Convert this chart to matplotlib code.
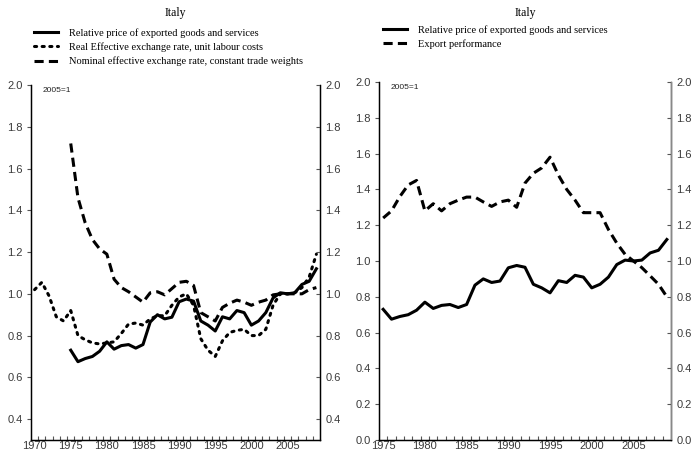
import matplotlib
matplotlib.use("Agg")
import matplotlib.pyplot as plt
from matplotlib.ticker import FixedLocator, NullFormatter

# data (2005=1)
years_reer = list(range(1970, 2010))
years = list(range(1975, 2010))

rel_price = [0.73, 0.675, 0.69, 0.70, 0.725, 0.77, 0.735, 0.752, 0.757, 0.74,
             0.757, 0.865, 0.90, 0.88, 0.888, 0.962, 0.975, 0.965, 0.87, 0.85,
             0.822, 0.89, 0.88, 0.92, 0.91, 0.85, 0.87, 0.91, 0.98, 1.005,
             1.0, 1.005, 1.045, 1.06, 1.12]

reer_ulc = [1.02, 1.055, 0.99, 0.89, 0.87, 0.92, 0.80, 0.78, 0.765, 0.76,
            0.765, 0.77, 0.81, 0.855, 0.86, 0.85, 0.88, 0.895, 0.895, 0.945,
            0.985, 1.0, 0.945, 0.785, 0.73, 0.70, 0.775, 0.815, 0.825, 0.83,
            0.80, 0.80, 0.83, 0.945, 1.0, 1.0, 1.005, 1.03, 1.08, 1.19]

neer = [1.72, 1.46, 1.34, 1.26, 1.215, 1.19, 1.07, 1.03, 1.01, 0.985,
        0.96, 1.005, 1.01, 0.995, 1.025, 1.055, 1.06, 1.04, 0.91, 0.89,
        0.87, 0.935, 0.955, 0.97, 0.96, 0.945, 0.96, 0.97, 0.995, 1.0,
        1.0, 1.0, 1.0, 1.02, 1.03]

export_perf = [1.24, 1.28, 1.36, 1.425, 1.45, 1.28, 1.32, 1.28, 1.32, 1.34,
               1.357, 1.357, 1.33, 1.305, 1.33, 1.34, 1.30, 1.435, 1.49, 1.52,
               1.58, 1.48, 1.40, 1.34, 1.27, 1.27, 1.27, 1.176, 1.10, 1.037,
               1.0, 0.963, 0.917, 0.87, 0.80]

left_labels = ["Relative price of exported goods and services",
               "Real Effective exchange rate, unit labour costs",
               "Nominal effective exchange rate, constant trade weights"]
right_labels = ["Relative price of exported goods and services",
                "Export performance"]

serif = "Liberation Serif"
sans = "Liberation Sans"
tick_col = "#3a3a3a"
dotted = (0, (0.7, 1.8))
dashed = (0, (3, 1.7))
lw = 2.2
tsize = 8

W, H = 693, 453
fig = plt.figure(figsize=(W / 100, H / 100), dpi=100)


def setup(ax, x0, x1, y0, y1, yticks, xlabels):
    ax.set_xlim(x0, x1)
    ax.set_ylim(y0, y1)
    ax.spines["top"].set_visible(False)
    for s in ax.spines.values():
        s.set_linewidth(1.0)
    ax.set_yticks(yticks)
    ax.set_yticklabels(["%.1f" % v for v in yticks])
    ax.tick_params(axis="y", direction="out", length=3, width=0.8,
                   labelsize=tsize, labelcolor=tick_col, color="#555555", pad=3)
    ax.set_xticks(xlabels)
    ax.set_xticklabels([str(v) for v in xlabels])
    ax.xaxis.set_minor_locator(FixedLocator([v + 0.5 for v in range(int(x0 + 0.5), int(x1 - 0.5))]))
    ax.xaxis.set_minor_formatter(NullFormatter())
    ax.tick_params(axis="x", which="major", length=0, labelsize=tsize,
                   labelcolor=tick_col, pad=0.5)
    ax.tick_params(axis="x", which="minor", direction="in", length=3,
                   width=0.8, color="#555555")
    for t in ax.get_xticklabels() + ax.get_yticklabels():
        t.set_family(sans)
    tw = ax.twinx()
    tw.set_ylim(y0, y1)
    tw.set_yticks(yticks)
    tw.set_yticklabels(["%.1f" % v for v in yticks])
    tw.tick_params(axis="y", direction="in", length=3, width=0.8,
                   labelsize=tsize, labelcolor=tick_col, color="#555555", pad=4)
    for t in tw.get_yticklabels():
        t.set_family(sans)
    tw.spines["top"].set_visible(False)
    return tw


# left panel
axL = fig.add_axes([31 / W, 1 - 440 / H, 289 / W, 355 / H])
setup(axL, 1969.5, 2009.5, 0.3, 2.0, [0.4, 0.6, 0.8, 1.0, 1.2, 1.4, 1.6, 1.8, 2.0],
      [1970, 1975, 1980, 1985, 1990, 1995, 2000, 2005])
l1, = axL.plot(years, rel_price, color="black", lw=lw, solid_joinstyle="round")
l2, = axL.plot(years_reer, reer_ulc, color="black", lw=lw, ls=dotted,
               dash_capstyle="round")
l3, = axL.plot(years, neer, color="black", lw=lw, ls=dashed)
axL.text(0.04, 0.995, "2005=1", transform=axL.transAxes, fontsize=6,
         family=sans, color="#222222", va="top")
fig.text(175 / W, 1 - 13 / H, "Italy", ha="center", va="center",
         family=serif, fontsize=8.5)
fig.legend([l1, l2, l3], left_labels, loc="upper left",
           bbox_to_anchor=(34 / W, 1 - 28 / H), frameon=False,
           prop={"family": serif, "size": 7.5}, handlelength=2.3,
           handletextpad=1.1, labelspacing=0.45, borderpad=0, borderaxespad=0)

# right panel
axR = fig.add_axes([379 / W, 1 - 440 / H, 292 / W, 358 / H])
twR = setup(axR, 1974.5, 2009.5, 0.0, 2.0, [0.0, 0.2, 0.4, 0.6, 0.8, 1.0, 1.2, 1.4, 1.6, 1.8, 2.0],
            [1975, 1980, 1985, 1990, 1995, 2000, 2005])
twR.spines["right"].set_color("#888888")
r1, = axR.plot(years, rel_price, color="black", lw=lw, solid_joinstyle="round")
r2, = axR.plot(years, export_perf, color="black", lw=lw, ls=dashed)
axR.text(0.04, 0.995, "2005=1", transform=axR.transAxes, fontsize=6,
         family=sans, color="#222222", va="top")
fig.text(525 / W, 1 - 13 / H, "Italy", ha="center", va="center",
         family=serif, fontsize=8.5)
fig.legend([r1, r2], right_labels, loc="upper left",
           bbox_to_anchor=(383 / W, 1 - 25 / H), frameon=False,
           prop={"family": serif, "size": 7.5}, handlelength=2.3,
           handletextpad=1.1, labelspacing=0.45, borderpad=0, borderaxespad=0)

fig.savefig("out.png", dpi=100)
